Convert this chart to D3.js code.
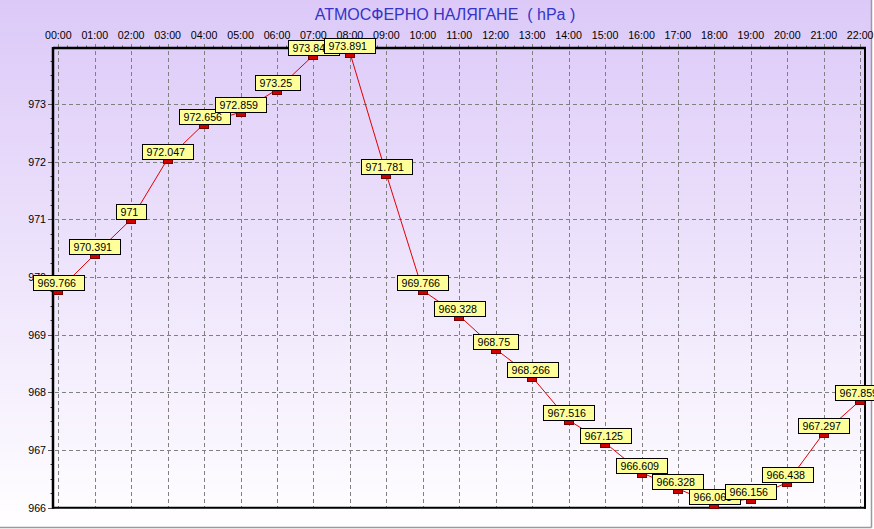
<!DOCTYPE html>
<html><head><meta charset="utf-8">
<script src="https://cdn.jsdelivr.net/npm/d3@7"></script>
<style>
html,body{margin:0;padding:0;background:#fff;}
svg{display:block;font-family:Arial,"Liberation Sans",sans-serif;}
</style>
</head><body>
<svg id="chart" width="874" height="529"></svg>
<script>
const title = "АТМОСФЕРНО НАЛЯГАНЕ  ( hPa )";
const hours = ["00:00","01:00","02:00","03:00","04:00","05:00","06:00","07:00","08:00","09:00","10:00","11:00","12:00","13:00","14:00","15:00","16:00","17:00","18:00","19:00","20:00","21:00","22:00"];
const pressure = [969.766,970.391,971,972.047,972.656,972.859,973.25,973.844,973.891,971.781,969.766,969.328,968.75,968.266,967.516,967.125,966.609,966.328,966.063,966.156,966.438,967.297,967.859];
const yTicks = [966,967,968,969,970,971,972,973];

const svg = d3.select("#chart");
const W = 874, H = 529;
const plot = {left:53, right:865, top:48, bottom:507.7};

const defs = svg.append("defs");
const grad = defs.append("linearGradient").attr("id","bg").attr("x1",0).attr("y1",0).attr("x2",0).attr("y2",1);
grad.append("stop").attr("offset","0%").attr("stop-color","#dcc9f8");
grad.append("stop").attr("offset","100%").attr("stop-color","#fffeff");

svg.append("rect").attr("x",0).attr("y",0).attr("width",W).attr("height",H).attr("fill","#ffffff");
svg.append("rect").attr("x",0).attr("y",0).attr("width",871).attr("height",527).attr("fill","url(#bg)");
// frame edges (right & bottom)
svg.append("line").attr("x1",871.5).attr("x2",871.5).attr("y1",0).attr("y2",527.5).attr("stroke","#9a9a9a").attr("stroke-width",1.5);
svg.append("line").attr("x1",0).attr("x2",871.5).attr("y1",527.5).attr("y2",527.5).attr("stroke","#9a9a9a").attr("stroke-width",1.5);

const x = d3.scalePoint().domain(hours).range([58.3, 860.2]);
const y = d3.scaleLinear().domain([966, 973.97]).range([plot.bottom, plot.top]);

// title
svg.append("text").attr("x",445).attr("y",19.5).attr("text-anchor","middle")
  .style("white-space","pre")
  .attr("font-size","16px").attr("fill","#3434c8").text(title);

// grid
const grid = svg.append("g").attr("stroke","#808080").attr("stroke-width",1).attr("stroke-dasharray","4,3");
grid.selectAll("line.v").data(hours).join("line").attr("class","v")
  .attr("x1",d=>Math.round(x(d))+0.5).attr("x2",d=>Math.round(x(d))+0.5)
  .attr("y1",plot.top-4).attr("y2",plot.bottom);
grid.selectAll("line.h").data(yTicks.slice(1)).join("line").attr("class","h")
  .attr("y1",d=>Math.round(y(d))+0.5).attr("y2",d=>Math.round(y(d))+0.5)
  .attr("x1",plot.left-5).attr("x2",plot.right);

// minor ticks left
const minorY = d3.range(966, 973.97, 0.25);
svg.append("g").selectAll("line").data(minorY).join("line")
  .attr("x1",plot.left-2.5).attr("x2",plot.left)
  .attr("y1",d=>Math.round(y(d))+0.5).attr("y2",d=>Math.round(y(d))+0.5)
  .attr("stroke","#333").attr("stroke-width",1);
// major ticks left
svg.append("g").selectAll("line").data(yTicks).join("line")
  .attr("x1",plot.left-5).attr("x2",plot.left)
  .attr("y1",d=>Math.round(y(d))+0.5).attr("y2",d=>Math.round(y(d))+0.5)
  .attr("stroke","#555").attr("stroke-width",1);
// minor ticks top
const minorX = [];
hours.forEach((h,i)=>{ if(i<hours.length-1){ for(let k=1;k<4;k++){ minorX.push(x(h)+k*x.step()/4); } }});
svg.append("g").selectAll("line").data(minorX).join("line")
  .attr("x1",d=>Math.round(d)+0.5).attr("x2",d=>Math.round(d)+0.5)
  .attr("y1",plot.top-2.5).attr("y2",plot.top)
  .attr("stroke","#666").attr("stroke-width",1);

// plot border
svg.append("line").attr("x1",plot.left).attr("x2",plot.right+1).attr("y1",plot.top).attr("y2",plot.top).attr("stroke","#000").attr("stroke-width",2.5);
svg.append("line").attr("x1",plot.left).attr("x2",plot.left).attr("y1",plot.top-1).attr("y2",plot.bottom+1).attr("stroke","#000").attr("stroke-width",2.5);
svg.append("line").attr("x1",plot.left).attr("x2",plot.right+1).attr("y1",plot.bottom).attr("y2",plot.bottom).attr("stroke","#000").attr("stroke-width",2);
svg.append("line").attr("x1",plot.right).attr("x2",plot.right).attr("y1",plot.top).attr("y2",plot.bottom+1).attr("stroke","#000").attr("stroke-width",2);

// axis labels
svg.append("g").selectAll("text").data(hours).join("text")
  .attr("x",d=>x(d)).attr("y",39).attr("text-anchor","middle")
  .attr("font-size","10.67px").attr("fill","#000").text(d=>d);
svg.append("g").selectAll("text").data(yTicks).join("text")
  .attr("x",46).attr("y",d=>y(d)+4).attr("text-anchor","end")
  .attr("font-size","10.67px").attr("fill","#000").text(d=>d);

// line
const pts = hours.map((h,i)=>({h, v: pressure[i]}));
svg.append("path").datum(pts)
  .attr("d", d3.line().x(d=>x(d.h)).y(d=>y(d.v)))
  .attr("fill","none").attr("stroke","#e00000").attr("stroke-width",1);

// markers and labels
const g = svg.append("g");
pts.forEach(d=>{
  const px = x(d.h), py = y(d.v);
  g.append("rect").attr("x",Math.round(px)-4.5).attr("y",Math.round(py)+0.5)
    .attr("width",9).attr("height",4).attr("fill","#d00000").attr("stroke","#700000").attr("stroke-width",1);
});
pts.forEach(d=>{
  const px = x(d.h), py = y(d.v);
  const lg = g.append("g");
  const r = lg.append("rect");
  const t = lg.append("text").attr("font-size","10.67px").attr("fill","#000").text(String(d.v));
  const tw = t.node().getComputedTextLength();
  const bw = Math.round(tw + 12), bh = 15;
  const bx = Math.round(px - bw/2) + 0.5, by = Math.round(py - bh) + 0.5;
  r.attr("x",bx).attr("y",by).attr("width",bw).attr("height",bh)
    .attr("fill","#ffff99").attr("stroke","#000").attr("stroke-width",1);
  t.attr("x",bx+4).attr("y",by+11.5);
});
</script>
</body></html>
